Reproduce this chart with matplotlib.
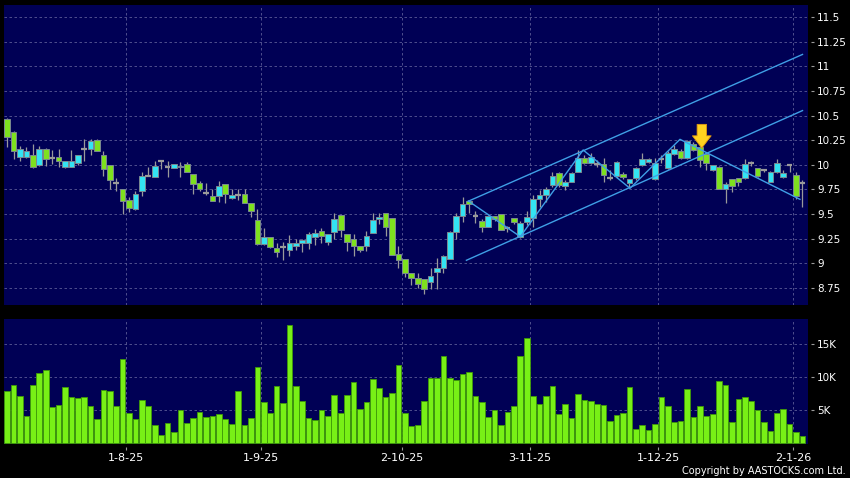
import numpy as np
import matplotlib
matplotlib.use("Agg")
import matplotlib.pyplot as plt

# ---------------- data ----------------
OPEN = [10.46, 10.33, 10.08, 10.08, 10.10, 10.00, 10.16, 10.07, 10.08, 9.98,
        9.98, 10.02, 10.16, 10.16, 10.25, 10.10, 10.00, 9.81, 9.75, 9.64,
        9.55, 9.73, 9.89, 9.88, 10.04, 9.98, 9.97, 9.98, 10.01, 9.91,
        9.81, 9.71, 9.68, 9.68, 9.80, 9.66, 9.69, 9.70, 9.61, 9.44,
        9.20, 9.27, 9.15, 9.16, 9.135, 9.17, 9.21, 9.21, 9.27, 9.33,
        9.22, 9.32, 9.49, 9.30, 9.25, 9.175, 9.18, 9.31, 9.45, 9.51,
        9.46, 9.09, 9.04, 8.90, 8.85, 8.84, 8.81, 8.915, 8.95, 9.04,
        9.32, 9.475, 9.635, 9.48, 9.43, 9.37, 9.48, 9.50, 9.36, 9.455,
        9.27, 9.42, 9.456, 9.65, 9.69, 9.79, 9.913, 9.785, 9.822, 9.93,
        10.065, 10.014, 10.01, 10.004, 9.862, 9.886, 9.906, 9.812, 9.862, 9.998,
        10.024, 9.852, 10.06, 9.964, 10.109, 10.143, 10.065, 10.211, 10.18, 10.11,
        9.947, 9.98, 9.754, 9.852, 9.862, 9.862, 10.014, 9.964, 9.95, 9.828,
        9.93, 9.88, 10.00, 9.896, 9.81]
HIGH = [10.47, 10.34, 10.19, 10.18, 10.21, 10.19, 10.17, 10.15, 10.16, 10.04,
        10.15, 10.10, 10.26, 10.26, 10.26, 10.14, 10.00, 9.87, 9.75, 9.67,
        9.73, 9.93, 9.98, 10.04, 10.05, 10.04, 10.01, 10.03, 10.03, 9.91,
        9.84, 9.81, 9.75, 9.835, 9.80, 9.75, 9.75, 9.75, 9.61, 9.55,
        9.355, 9.27, 9.21, 9.22, 9.29, 9.25, 9.25, 9.32, 9.35, 9.36,
        9.30, 9.51, 9.49, 9.30, 9.30, 9.175, 9.33, 9.51, 9.51, 9.51,
        9.46, 9.17, 9.04, 8.90, 8.90, 8.84, 8.955, 9.05, 9.08, 9.33,
        9.51, 9.67, 9.635, 9.53, 9.45, 9.49, 9.48, 9.50, 9.38, 9.455,
        9.43, 9.53, 9.69, 9.744, 9.777, 9.93, 9.93, 9.85, 9.93, 10.15,
        10.10, 10.116, 10.05, 10.065, 9.946, 10.04, 9.93, 9.852, 9.98, 10.116,
        10.07, 10.065, 10.10, 10.14, 10.20, 10.16, 10.25, 10.23, 10.19, 10.12,
        10.00, 9.99, 9.82, 9.86, 9.87, 10.055, 10.04, 9.97, 9.96, 9.94,
        10.055, 9.95, 10.004, 9.93, 9.85]
LOW = [10.18, 10.06, 10.04, 10.07, 9.97, 9.99, 9.99, 10.01, 9.98, 9.97,
       9.98, 10.00, 10.04, 10.10, 10.14, 9.89, 9.75, 9.73, 9.50, 9.52,
       9.54, 9.68, 9.89, 9.88, 9.96, 9.88, 9.97, 9.88, 9.93, 9.70,
       9.73, 9.69, 9.63, 9.625, 9.61, 9.65, 9.64, 9.61, 9.47, 9.19,
       9.19, 9.15, 9.06, 9.03, 9.07, 9.13, 9.11, 9.145, 9.19, 9.21,
       9.19, 9.25, 9.27, 9.12, 9.07, 9.11, 9.12, 9.31, 9.40, 9.28,
       9.08, 8.95, 8.86, 8.78, 8.745, 8.69, 8.74, 8.735, 8.90, 9.04,
       9.25, 9.42, 9.51, 9.41, 9.32, 9.37, 9.43, 9.34, 9.32, 9.40,
       9.26, 9.39, 9.37, 9.575, 9.625, 9.77, 9.77, 9.744, 9.82, 9.93,
       10.01, 10.01, 9.98, 9.828, 9.85, 9.87, 9.86, 9.76, 9.85, 9.99,
       10.02, 9.85, 10.02, 9.96, 10.10, 10.06, 10.06, 10.14, 9.98, 9.95,
       9.94, 9.75, 9.608, 9.727, 9.78, 9.86, 9.99, 9.88, 9.93, 9.82,
       9.92, 9.87, 9.93, 9.65, 9.57]
CLOSE = [10.28, 10.14, 10.16, 10.14, 9.98, 10.16, 10.06, 10.07, 10.04, 10.04,
         10.04, 10.10, 10.16, 10.24, 10.14, 9.96, 9.85, 9.81, 9.63, 9.56,
         9.70, 9.89, 9.89, 9.99, 10.04, 9.98, 10.01, 9.99, 9.93, 9.80,
         9.75, 9.71, 9.635, 9.78, 9.70, 9.69, 9.69, 9.61, 9.53, 9.20,
         9.27, 9.16, 9.11, 9.16, 9.21, 9.21, 9.24, 9.30, 9.31, 9.28,
         9.30, 9.45, 9.34, 9.22, 9.17, 9.13, 9.28, 9.44, 9.47, 9.37,
         9.08, 9.03, 8.905, 8.85, 8.79, 8.74, 8.87, 8.95, 9.07, 9.32,
         9.475, 9.60, 9.60, 9.48, 9.365, 9.48, 9.445, 9.34, 9.36, 9.42,
         9.405, 9.465, 9.65, 9.69, 9.757, 9.886, 9.795, 9.82, 9.913, 10.065,
         10.014, 10.08, 10.01, 9.896, 9.862, 10.024, 9.872, 9.852, 9.964, 10.055,
         10.055, 10.014, 10.06, 10.116, 10.156, 10.065, 10.244, 10.15, 10.045, 10.014,
         9.998, 9.754, 9.805, 9.785, 9.828, 10.004, 10.014, 9.886, 9.95, 9.93,
         10.014, 9.92, 10.00, 9.683, 9.81]
VOLUME_K = [7.77, 8.76, 7.08, 4.06, 8.66, 10.5, 11.04, 5.35, 5.74, 8.37,
            6.93, 6.73, 6.83, 5.54, 3.61, 8.02, 7.77, 5.54, 12.67, 4.5,
            3.51, 6.49, 5.54, 2.72, 1.19, 2.92, 1.53, 4.9, 3.02, 3.76,
            4.70, 3.81, 3.96, 4.36, 3.56, 2.87, 7.77, 2.62, 3.66, 11.44,
            6.14, 4.5, 8.61, 5.94, 17.77, 8.56, 6.34, 3.66, 3.37, 5.0,
            4.06, 7.28, 4.55, 7.13, 9.11, 5.15, 6.09, 9.6, 8.32, 6.83,
            7.52, 11.78, 4.5, 2.43, 2.72, 6.24, 9.75, 9.75, 13.1, 9.75,
            9.46, 10.45, 10.64, 6.98, 6.09, 3.91, 4.9, 2.72, 4.70, 5.59,
            13.07, 15.84, 7.08, 5.79, 7.08, 8.51, 4.26, 5.79, 3.76, 7.33,
            6.49, 6.34, 5.89, 5.69, 3.32, 4.11, 4.5, 8.47, 2.08, 2.72,
            1.88, 2.87, 6.83, 5.54, 3.07, 3.22, 8.17, 3.86, 5.59, 4.01,
            4.31, 9.31, 8.71, 3.12, 6.58, 6.88, 6.34, 4.95, 3.12, 1.68,
            4.5, 5.1, 2.77, 1.53, 1.04]

MONTH_START_IDX = [19, 40, 62, 82, 102, 123]
MONTH_LABELS = ['1-8-25', '1-9-25', '2-10-25', '3-11-25', '1-12-25', '2-1-26']
PRICE_TICKS = [8.75, 9, 9.25, 9.5, 9.75, 10, 10.25, 10.5, 10.75, 11, 11.25, 11.5]
PRICE_TICK_LABELS = ['8.75', '9', '9.25', '9.5', '9.75', '10', '10.25', '10.5',
                     '10.75', '11', '11.25', '11.5']
VOL_TICKS = [5, 10, 15]
VOL_TICK_LABELS = ['5K', '10K', '15K']

CHANNEL_UPPER_X = [71.9, 124.0]
CHANNEL_UPPER_Y = [9.63, 11.12]
CHANNEL_LOWER_X = [71.6, 124.0]
CHANNEL_LOWER_Y = [9.03, 10.55]
ZIGZAG_X = [71.9, 80.0, 89.8, 97.1, 104.9, 123.6]
ZIGZAG_Y = [9.632, 9.27, 10.15, 9.761, 10.258, 9.649]
ARROW_X = 108.3
ARROW_TAIL_Y = 10.41
ARROW_TIP_Y = 10.17

# ---------------- style ----------------
BG = '#000055'
UP = '#33e3f2'
DOWN = '#7ee11e'
EDGE = '#7a8890'
WICK = '#9a9a9a'
GRID = '#5c5c96'
VOLC = '#78f016'
VOLE = '#3f9a08'
LINEC = '#3f9fe6'

O = np.array(OPEN); H = np.array(HIGH); L = np.array(LOW); C = np.array(CLOSE)
V = np.array(VOLUME_K)
x = np.arange(len(O))

fig = plt.figure(figsize=(8.5, 4.78), dpi=100, facecolor='black')
W, Hh = 850.0, 478.0
left, right = 4 / W, 807.5 / W
ax = fig.add_axes([left, 1 - 305 / Hh, right - left, 300 / Hh])
axv = fig.add_axes([left, 1 - 443.5 / Hh, right - left, (443.5 - 319) / Hh])

for a in (ax, axv):
    a.set_facecolor(BG)
    a.set_xlim(-0.5, 124.78)
    for s in a.spines.values():
        s.set_visible(False)
    a.spines['right'].set_position(('outward', 2.5))
    a.spines['bottom'].set_position(('outward', 2.5))
    a.yaxis.tick_right()
    a.tick_params(axis='y', colors='#9a9a9a', labelcolor='white', length=1.8,
                  width=0.8, pad=2.6, labelsize=7.5)
    for xi in MONTH_START_IDX:
        a.axvline(xi - 0.5, color=GRID, lw=0.6, ls=(0, (3, 3)), zorder=0.5)

# price panel
ax.set_ylim(8.576, 11.622)
ax.set_yticks(PRICE_TICKS)
ax.set_yticklabels(PRICE_TICK_LABELS)
ax.set_xticks([])
for p in PRICE_TICKS:
    ax.axhline(p, color=GRID, lw=0.6, ls=(0, (3, 3)), zorder=0.5)

# wicks
ax.vlines(x, L, H, color=WICK, lw=0.9, zorder=2)
diff = C - O
doji = np.abs(diff) < 0.006
up = (diff > 0) & ~doji
dn = (diff < 0) & ~doji
bw = 0.88
ax.bar(x[up], (C - O)[up], bottom=O[up], width=bw, color=UP, edgecolor=EDGE,
       linewidth=0.7, zorder=3)
ax.bar(x[dn], (O - C)[dn], bottom=C[dn], width=bw, color=DOWN, edgecolor=EDGE,
       linewidth=0.7, zorder=3)
ax.hlines(C[doji], x[doji] - bw / 2, x[doji] + bw / 2, color=WICK, lw=1.6, zorder=3)

# trend lines
ax.plot(CHANNEL_UPPER_X, CHANNEL_UPPER_Y, color=LINEC, lw=1.0, zorder=4)
ax.plot(CHANNEL_LOWER_X, CHANNEL_LOWER_Y, color=LINEC, lw=1.0, zorder=4)
ax.plot(ZIGZAG_X, ZIGZAG_Y, color=LINEC, lw=1.0, zorder=4)

# arrow
ax.annotate('', xy=(ARROW_X, ARROW_TIP_Y), xytext=(ARROW_X, ARROW_TAIL_Y),
            arrowprops=dict(arrowstyle='simple,head_length=0.65,head_width=1.0,tail_width=0.5',
                            mutation_scale=13.5, fc='#ffd21f', ec='#e39a10', lw=0.6,
                            shrinkA=0, shrinkB=0), zorder=6)

# volume panel
axv.set_ylim(-0.15, 18.73)
axv.bar(x, V, width=0.88, color=VOLC, edgecolor=VOLE, linewidth=0.6, zorder=3)
axv.set_yticks(VOL_TICKS)
axv.set_yticklabels(VOL_TICK_LABELS)
for t in VOL_TICKS:
    axv.axhline(t, color=GRID, lw=0.6, ls=(0, (3, 3)), zorder=0.5)
axv.set_xticks([i - 0.5 for i in MONTH_START_IDX])
axv.set_xticklabels(MONTH_LABELS)
axv.tick_params(axis='x', colors='#9a9a9a', labelcolor='white', length=1.8,
                width=0.8, pad=2.5, labelsize=8)

fig.text(845.5 / W, 1 - 471 / Hh, 'Copyright by AASTOCKS.com Ltd.', color='white',
         fontsize=7, ha='right', va='center')

fig.savefig('out.png', dpi=100, facecolor='black')
